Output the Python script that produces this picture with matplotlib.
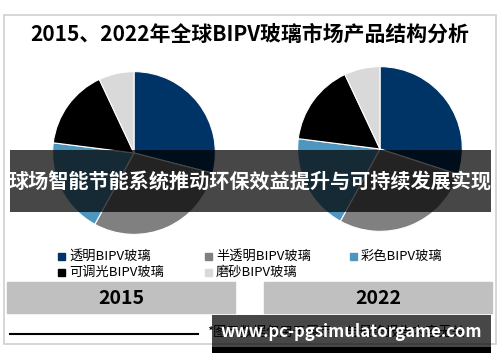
import matplotlib.pyplot as plt
from matplotlib.patches import Rectangle

plt.rcParams['font.family'] = ['Noto Sans CJK SC', 'DejaVu Sans']

# data (share of each glass type, %)
labels = ['透明BIPV玻璃', '半透明BIPV玻璃', '彩色BIPV玻璃', '可调光BIPV玻璃', '磨砂BIPV玻璃']
colors = ['#013466', '#808080', '#4e96be', '#000000', '#d9d9d9']
share_2015 = [29, 29, 19, 16, 7]
share_2022 = [30, 28, 19, 16, 7]
years = ['2015', '2022']

title = '2015、2022年全球BIPV玻璃市场产品结构分析'
banner = '球场智能节能系统推动环保效益提升与可持续发展实现'
note = '*图示数据仅用于展示，与最终报告内容无关'
watermark = 'www.pc-pgsimulatorgame.com'

W, H = 500, 362
fig = plt.figure(figsize=(W / 100, H / 100), dpi=100)

def px_axes(x, y, w, h, z):
    # axes placed in pixel units, y from the top
    ax = fig.add_axes([x / W, 1 - (y + h) / H, w / W, h / H])
    ax.set_zorder(z)
    return ax

# background: frame, title, legend, year boxes, footnote
bg = px_axes(0, 0, W, H, 0)
bg.set_xlim(0, W)
bg.set_ylim(H, 0)
bg.axis('off')
bg.add_patch(Rectangle((4, 15), 492, 329, fill=False, ec='#d0d0d0', lw=1.2))
bg.text(250, 34, title, ha='center', va='center', fontsize=15, fontweight='bold')

leg_x = [58, 205, 350]
leg_y = [256, 272]
for i, (lab, col) in enumerate(zip(labels, colors)):
    row, c = divmod(i, 3)
    bg.add_patch(Rectangle((leg_x[c], leg_y[row] - 3.5), 7, 7, color=col))
    bg.text(leg_x[c] + 11, leg_y[row], lab, ha='left', va='center', fontsize=9.5)

for x0, yr in zip([7, 264], years):
    bg.add_patch(Rectangle((x0, 282), 228, 31, color='#c0c0c0'))
    bg.text(x0 + 114, 298, yr, ha='center', va='center', fontsize=14, fontweight='bold')

bg.plot([10, 198], [334, 334], color='black', lw=1.5)
bg.text(207, 332, note, ha='left', va='center', fontsize=9.5)

# pies
for (cx, cy, r), vals in zip([(134, 153, 83), (380, 149, 84)], [share_2015, share_2022]):
    ax = px_axes(cx - r, cy - r, 2 * r, 2 * r, 1)
    ax.pie(vals, colors=colors, startangle=90, counterclock=False,
           wedgeprops=dict(edgecolor='white', linewidth=0.8))
    ax.set_xlim(-1.02, 1.02)
    ax.set_ylim(-1.02, 1.02)

# overlays on top
top = px_axes(0, 0, W, H, 5)
top.set_xlim(0, W)
top.set_ylim(H, 0)
top.axis('off')
top.add_patch(Rectangle((10, 150), 481, 62, color='black', alpha=0.72, lw=0))
top.text(250, 182, banner, ha='center', va='center', fontsize=14.5,
         fontweight='bold', color='white')
top.add_patch(Rectangle((212, 315), 279, 32, color='black', alpha=0.72, lw=0))
top.add_patch(Rectangle((212, 347), 279, 6, color='black', lw=0))
top.text(351, 332, watermark, ha='center', va='center', fontsize=12,
         fontweight='bold', color='white')

fig.savefig('out.png', dpi=100)
